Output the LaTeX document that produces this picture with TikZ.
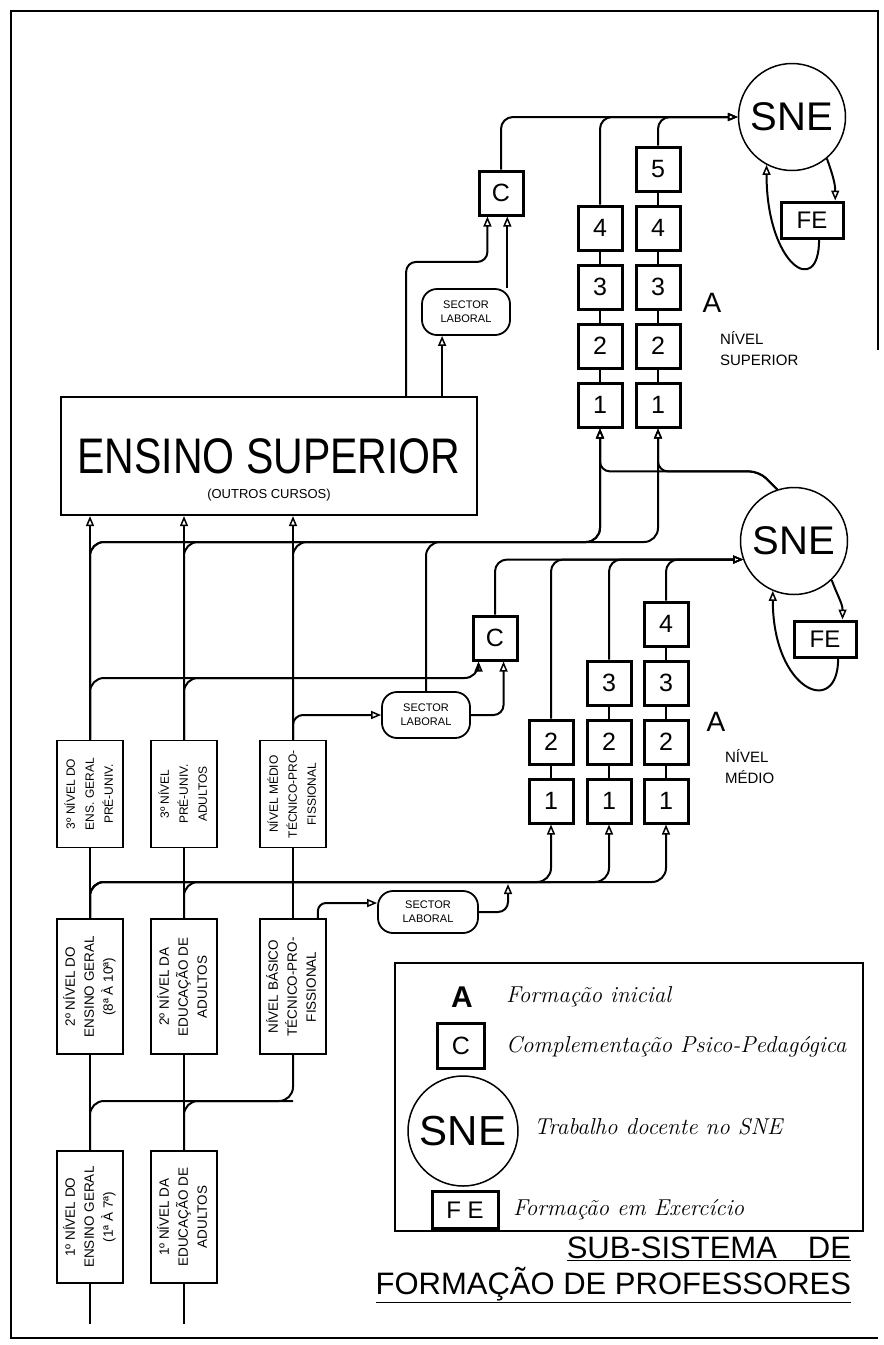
\documentclass[tikz,border=0pt]{standalone}
\usepackage{fontspec}
\setsansfont{Liberation Sans}
\usepackage{tikz}
\usetikzlibrary{arrows.meta, positioning, calc}

\newcommand{\sidetext}[1]{\rotatebox{90}{\begin{tabular}{@{}c@{}}#1\end{tabular}}}

\begin{document}
\begin{tikzpicture}[
  x=1pt, y=-1pt,
  line width=2pt,
  font=\sffamily,
  node distance=12pt,
  arr/.style={-{Triangle[open, length=10pt, width=8pt, line width=1.5pt]}},
  num/.style={draw, line width=3pt, minimum size=44pt, inner sep=0pt,
              font=\sffamily\fontsize{25}{25}\selectfont},
  lvl/.style={draw, line width=1.8pt, minimum width=66pt, minimum height=135pt,
              inner sep=1pt, font=\sffamily\fontsize{13.5}{19}\selectfont},
  sne/.style={draw, circle, line width=1.5pt, minimum size=107pt, inner sep=0pt,
              font=\sffamily\fontsize{40}{40}\selectfont},
  fe/.style={draw, line width=3pt, minimum width=62pt, minimum height=36pt,
             inner sep=0pt, font=\sffamily\fontsize{24}{24}\selectfont},
  lab/.style={draw, rounded corners=15pt, line width=1.8pt, minimum width=88pt,
              minimum height=46pt, inner sep=1pt, align=center,
              font=\sffamily\fontsize{11}{14}\selectfont},
  tag/.style={inner sep=0pt, align=left, font=\sffamily\fontsize{15}{21}\selectfont},
  keytext/.style={anchor=west, inner sep=0pt,
                  font=\rmfamily\itshape\fontsize{23}{23}\selectfont}
]
\useasboundingbox (0,0) rectangle (884,1345);

% frame
\draw[line width=2.2pt] (878,350) -- (878,11) -- (11,11) -- (11,1338) -- (878,1338);

% bus levels
\coordinate (hone) at (0,542);
\coordinate (htwo) at (0,678);
\coordinate (hthree) at (0,882);
\coordinate (hfour) at (0,1101);
\coordinate (jlab) at (508,884);

% ensino superior
\node[draw, line width=2.2pt, minimum width=416pt, minimum height=118pt, inner sep=0pt,
  label={[font=\sffamily\fontsize{13}{13}\selectfont, anchor=south, yshift=11pt]south:(OUTROS CURSOS)}]
  (esup) at (269,456) {\scalebox{0.82}[1]{\fontsize{50}{50}\selectfont ENSINO SUPERIOR}};

% levels of the SNE
\node[lvl, minimum height=107pt, font=\sffamily\fontsize{12}{19}\selectfont] (l3a) at (90,794) {\sidetext{3º NÍVEL DO\\ENS. GERAL\\PRÉ-UNIV.}};
\node[lvl, below=70pt of l3a] (l2a) {\sidetext{2º NÍVEL DO\\ENSINO GERAL\\(8ª À 10ª)}};
\node[lvl, minimum height=132pt, below=95pt of l2a] (l1a) {\sidetext{1º NÍVEL DO\\ENSINO GERAL\\(1ª À 7ª)}};
\node[lvl, minimum height=107pt, font=\sffamily\fontsize{12}{19}\selectfont] (l3b) at (184,794) {\sidetext{3º NÍVEL\\PRÉ-UNIV.\\ADULTOS}};
\node[lvl, below=70pt of l3b] (l2b) {\sidetext{2º NÍVEL DA\\EDUCAÇÃO DE\\ADULTOS}};
\node[lvl, minimum height=132pt, below=95pt of l2b] (l1b) {\sidetext{1º NÍVEL DA\\EDUCAÇÃO DE\\ADULTOS}};
\node[lvl, minimum height=107pt, font=\sffamily\fontsize{12}{19}\selectfont] (l3c) at (293,794) {\sidetext{NÍVEL MÉDIO\\TÉCNICO-PRO-\\FISSIONAL}};
\node[lvl, below=70pt of l3c] (l2c) {\sidetext{NÍVEL BÁSICO\\TÉCNICO-PRO-\\FISSIONAL}};

% sector laboral
\node[lab] (slab1) at (466,312) {SECTOR\\LABORAL};
\node[lab] (slab2) at (426,715) {SECTOR\\LABORAL};
\node[lab, minimum width=100pt, minimum height=42pt] (slab3) at (428,912) {SECTOR\\LABORAL};

% nivel superior
\node[num] (csup) at (501,193) {C};
\node[num] (s1-1) at (600,405) {1};
\node[num, above=of s1-1] (s1-2) {2};
\node[num, above=of s1-2] (s1-3) {3};
\node[num, above=of s1-3] (s1-4) {4};
\node[num] (s2-1) at (658,405) {1};
\node[num, above=of s2-1] (s2-2) {2};
\node[num, above=of s2-2] (s2-3) {3};
\node[num, above=of s2-3] (s2-4) {4};
\node[num, above=of s2-4] (s2-5) {5};
\node[sne] (sne1) at (792,117) {SNE};
\node[fe] (fe1) at (812,220) {FE};
\node[font=\sffamily\fontsize{28}{28}\selectfont, inner sep=0pt] (asup) at (712,303) {A};
\node[tag, anchor=north west] (nsup) at (719,330) {NÍVEL\\SUPERIOR};

% nivel medio
\node[num] (cmed) at (495,638) {C};
\node[num] (m1-1) at (551,801) {1};
\node[num, above=of m1-1] (m1-2) {2};
\node[num] (m2-1) at (609,801) {1};
\node[num, above=of m2-1] (m2-2) {2};
\node[num, above=of m2-2] (m2-3) {3};
\node[num] (m3-1) at (666,801) {1};
\node[num, above=of m3-1] (m3-2) {2};
\node[num, above=of m3-2] (m3-3) {3};
\node[num, above=of m3-3] (m3-4) {4};
\node[sne] (sne2) at (794,541) {SNE};
\node[fe] (fe2) at (825,639) {FE};
\node[font=\sffamily\fontsize{28}{28}\selectfont, inner sep=0pt] (amed) at (716,722) {A};
\node[tag, anchor=north west] (nmed) at (724,748) {NÍVEL\\MÉDIO};

% chains of boxes
\draw (s1-1) -- (s1-2) (s1-2) -- (s1-3) (s1-3) -- (s1-4);
\draw (s2-1) -- (s2-2) (s2-2) -- (s2-3) (s2-3) -- (s2-4) (s2-4) -- (s2-5);
\draw (m1-1) -- (m1-2);
\draw (m2-1) -- (m2-2) (m2-2) -- (m2-3);
\draw (m3-1) -- (m3-2) (m3-2) -- (m3-3) (m3-3) -- (m3-4);

% columns
\draw (l1a) -- (l2a) (l2a) -- (l3a);
\draw (l1b) -- (l2b) (l2b) -- (l3b);
\draw (l2c) -- (l3c);
\draw (l1a.south) -- ++(0,40) (l1b.south) -- ++(0,40);
\draw[arr] (l3a.north) -- (l3a.north |- esup.south);
\draw[arr] (l3b.north) -- (l3b.north |- esup.south);
\draw[arr] (l3c.north) -- (l3c.north |- esup.south);

% bottom bus
\draw[rounded corners=14pt] (l1a.north) |- (l2c.south |- hfour) -- (l2c.south);
\draw[rounded corners=14pt] (l1b.north) |- (l2c.south |- hfour);

% to nivel medio
\draw[arr, rounded corners=14pt] (l2a.north) |- (m1-1.south |- hthree) -- (m1-1.south);
\draw[arr, rounded corners=14pt] (l2a.north) |- (m2-1.south |- hthree) -- (m2-1.south);
\draw[arr, rounded corners=14pt] (l2a.north) |- (m3-1.south |- hthree) -- (m3-1.south);
\draw[rounded corners=14pt] (l2b.north) |- (m1-1.south |- hthree);
\draw[arr, rounded corners=8pt] (l2c.70) |- (slab3.170);
\draw[arr, rounded corners=10pt] (slab3.east) -| (jlab);

% to C (nivel medio)
\draw[arr, rounded corners=14pt] (l3a.north) |- (cmed.235 |- htwo) -- (cmed.235);
\draw[rounded corners=14pt] (l3b.north) |- (l3c.north |- htwo);
\draw[arr, rounded corners=10pt] (l3c.north) |- (slab2.west);
\draw[arr, rounded corners=10pt] (slab2.east) -| (cmed.290);

% to nivel superior
\draw[arr, rounded corners=14pt] (l3a.north) |- (s1-1.south |- hone) -- (s1-1.south);
\draw[arr, rounded corners=14pt] (l3a.north) |- (s2-1.south |- hone) -- (s2-1.south);
\draw[rounded corners=14pt] (l3b.north) |- (l3c.north |- hone);
\draw[rounded corners=14pt] (l3c.north) |- (slab2.north |- hone);
\draw[arr, rounded corners=14pt] (slab2.north) |- (s1-1.south |- hone) -- (s1-1.south);
\draw[arr, rounded corners=10pt] (sne2.108) -- ++(-18,-18) -| (s1-1.south);
\draw[arr, rounded corners=10pt] (sne2.108) -- ++(-18,-18) -| (s2-1.south);

% ensino superior to C and sector laboral
\draw[arr, rounded corners=10pt] ($(esup.north east)+(-72,0)$) -- ++(0,-134) -| (csup.240);
\draw[arr] (esup.north -| slab1.225) -- (slab1.225);
\draw[arr] (slab1.north -| csup.285) -- (csup.285);

% into SNE
\draw[arr, rounded corners=12pt] (csup.north) |- (sne1.west);
\draw[arr, rounded corners=12pt] (s1-4.north) |- (sne1.west);
\draw[arr, rounded corners=12pt] (s2-5.north) |- (sne1.west);
\draw[arr, rounded corners=12pt] (cmed.north) |- (sne2.200);
\draw[arr, rounded corners=12pt] (m1-2.north) |- (sne2.200);
\draw[arr, rounded corners=12pt] (m2-3.north) |- (sne2.200);
\draw[arr, rounded corners=12pt] (m3-4.north) |- (sne2.200);

% formacao em exercicio
\draw[arr] (sne1.-50) to[out=-70, in=90] (fe1.40);
\draw[arr] (fe1.-70) .. controls +(0,60) and +(0,100) .. (sne1.242);
\draw[arr] (sne2.-46) to[out=-70, in=90] (fe2.48);
\draw[arr] (fe2.-56) .. controls +(0,60) and +(0,100) .. (sne2.247);

% legend
\node[draw, line width=1.8pt, minimum width=468pt, minimum height=268pt] (key) at (629,1097) {};
\node[font=\sffamily\bfseries\fontsize{30}{30}\selectfont, inner sep=0pt] (ka) at (462,997) {A};
\node[num, minimum width=47pt, minimum height=45pt] (kc) at (461,1046) {C};
\node[sne, minimum size=110pt, font=\sffamily\fontsize{42}{42}\selectfont] (ksne) at (463,1131) {SNE};
\node[fe, minimum width=66pt, minimum height=37pt] (kfe) at (465,1210) {F E};
\node[keytext] (ta) at (505,997) {Formação inicial};
\node[keytext] (tc) at (505,1047) {Complementação Psico-Pedagógica};
\node[keytext] (tsne) at (533,1127) {Trabalho docente no SNE};
\node[keytext] (tfe) at (512,1210) {Formação em Exercício};

% title
\node[anchor=east, align=right, inner sep=0pt, font=\sffamily\fontsize{31}{36}\selectfont]
  (title) at (852,1270) {\underline{SUB-SISTEMA\quad DE}\\\underline{FORMAÇÃO DE PROFESSORES}};
\end{tikzpicture}
\end{document}
